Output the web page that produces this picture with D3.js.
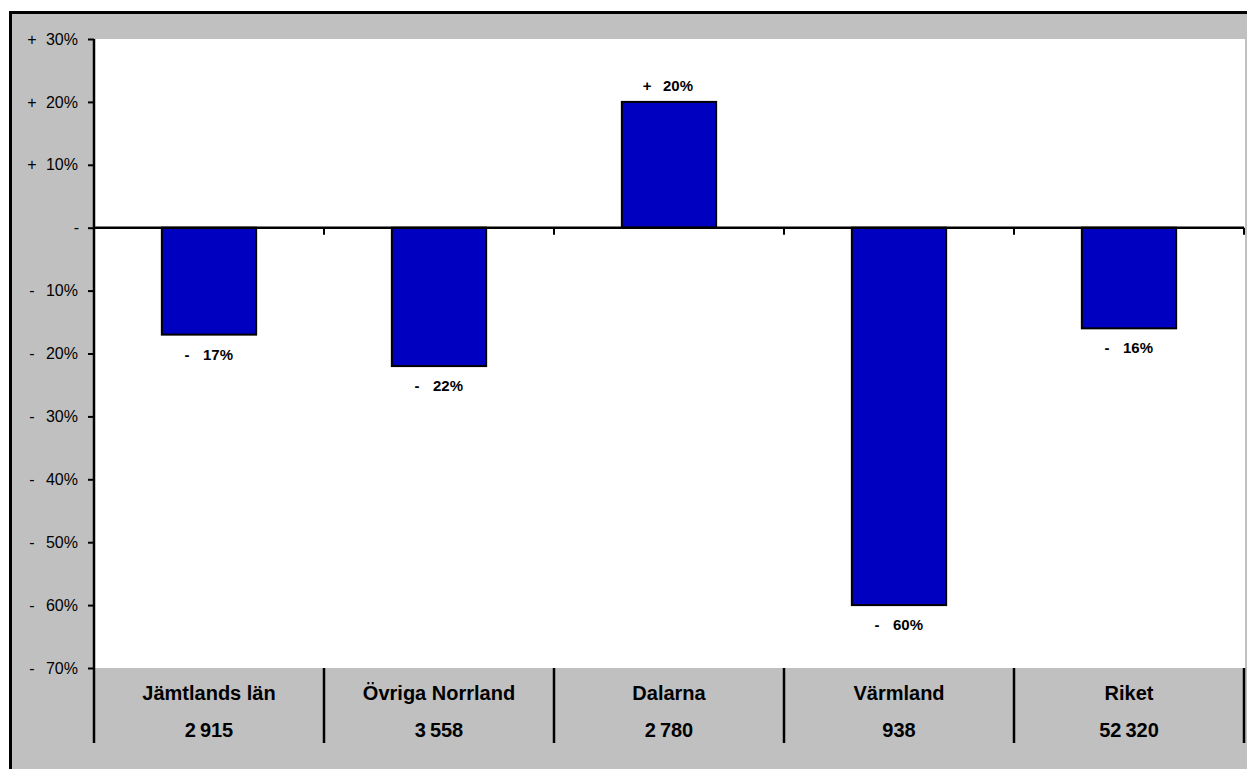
<!DOCTYPE html>
<html><head><meta charset="utf-8">
<script src="https://cdn.jsdelivr.net/npm/d3@7"></script>
<style>
html,body{margin:0;padding:0;background:#fff;}
svg{display:block;font-family:"Liberation Sans",Arial,sans-serif;}
</style></head>
<body>
<svg id="chart" width="1247" height="769"></svg>
<script>
const categories = ["Jämtlands län", "Övriga Norrland", "Dalarna", "Värmland", "Riket"];
const counts = ["2\u2009915", "3\u2009558", "2\u2009780", "938", "52\u2009320"];
const changes = [-17, -22, 20, -60, -16];
const yTicks = [30, 20, 10, 0, -10, -20, -30, -40, -50, -60, -70];

(function () {
const svg = d3.select("#chart");
const pLeft = 94, pRight = 1244, pTop = 39, pBottom = 668;

// outer background + border
svg.append("rect").attr("x", 10.5).attr("y", 12.5).attr("width", 1300).attr("height", 800)
  .attr("fill", "#C0C0C0").attr("stroke", "#000").attr("stroke-width", 3);
// plot area
svg.append("rect").attr("x", pLeft).attr("y", pTop).attr("width", pRight - pLeft + 1).attr("height", pBottom - pTop)
  .attr("fill", "#fff");

const y = d3.scaleLinear().domain([-70, 30]).range([pBottom, pTop]);
const x = d3.scaleBand().domain(categories).range([pLeft, pRight]).paddingInner(0.59).paddingOuter(0.295);
const xb = d3.scaleBand().domain(categories).range([pLeft, pRight]).padding(0);

// bars
svg.selectAll("rect.bar").data(changes).enter().append("rect").attr("class", "bar")
  .attr("x", (d, i) => x(categories[i]))
  .attr("width", x.bandwidth())
  .attr("y", d => y(Math.max(0, d)))
  .attr("height", d => Math.abs(y(d) - y(0)))
  .attr("fill", "#0000C0").attr("stroke", "#000").attr("stroke-width", 2);

const yAxisG = svg.append("g").attr("transform", `translate(${pLeft},0)`)
  .call(d3.axisLeft(y).tickValues(yTicks).tickSize(6).tickPadding(16)
    .tickFormat(d => d === 0 ? "-" : Math.abs(d) + "%"));
yAxisG.select(".domain").attr("stroke-width", 2.5).attr("d", `M0,${pTop}V${pBottom}`);
yAxisG.selectAll(".tick line").attr("stroke-width", 2);
yAxisG.selectAll(".tick text").attr("font-size", 16).attr("fill", "#000")
  .attr("font-family", "Liberation Sans, Arial, sans-serif")
  .attr("x", d => d === 0 ? -15 : -16);
yAxisG.selectAll(".tick").filter(d => d !== 0).append("text")
  .attr("x", -62).attr("dy", "0.32em").attr("text-anchor", "middle")
  .attr("font-size", 16).attr("fill", "#000")
  .attr("font-family", "Liberation Sans, Arial, sans-serif")
  .text(d => d > 0 ? "+" : "-");

// zero line with ticks at category boundaries
const bounds = categories.map(c => xb(c)).concat([pRight]);
svg.append("line").attr("x1", pLeft).attr("x2", pRight).attr("y1", y(0)).attr("y2", y(0))
  .attr("stroke", "#000").attr("stroke-width", 2.5);
svg.selectAll("line.xt").data(bounds.slice(1)).enter().append("line").attr("class", "xt")
  .attr("x1", d => d).attr("x2", d => d).attr("y1", y(0)).attr("y2", y(0) + 7)
  .attr("stroke", "#000").attr("stroke-width", 2);

// value labels
const lab = svg.selectAll("g.vl").data(changes).enter().append("g").attr("class", "vl")
  .attr("transform", (d, i) => {
    const cx = x(categories[i]) + x.bandwidth() / 2;
    const yy = d >= 0 ? y(d) - 11 : y(d) + 25;
    return `translate(${cx},${yy})`;
  });
lab.append("text").attr("x", -22).attr("text-anchor", "middle").attr("font-weight", "bold")
  .attr("font-size", 15).text(d => d >= 0 ? "+" : "-");
lab.append("text").attr("x", 24).attr("text-anchor", "end").attr("font-weight", "bold")
  .attr("font-size", 15).text(d => Math.abs(d) + "%");

// bottom category separators
svg.selectAll("line.sep").data(bounds).enter().append("line").attr("class", "sep")
  .attr("x1", d => d).attr("x2", d => d).attr("y1", pBottom).attr("y2", 743)
  .attr("stroke", "#000").attr("stroke-width", 2.5);

// category labels
svg.selectAll("text.cat").data(categories).enter().append("text").attr("class", "cat")
  .attr("x", d => xb(d) + xb.bandwidth() / 2).attr("y", 700)
  .attr("text-anchor", "middle").attr("font-weight", "bold").attr("font-size", 20).text(d => d);
svg.selectAll("text.cnt").data(counts).enter().append("text").attr("class", "cnt")
  .attr("x", (d, i) => xb(categories[i]) + xb.bandwidth() / 2).attr("y", 737)
  .attr("text-anchor", "middle").attr("font-weight", "bold").attr("font-size", 20).text(d => d);
})();
</script>
</body></html>
